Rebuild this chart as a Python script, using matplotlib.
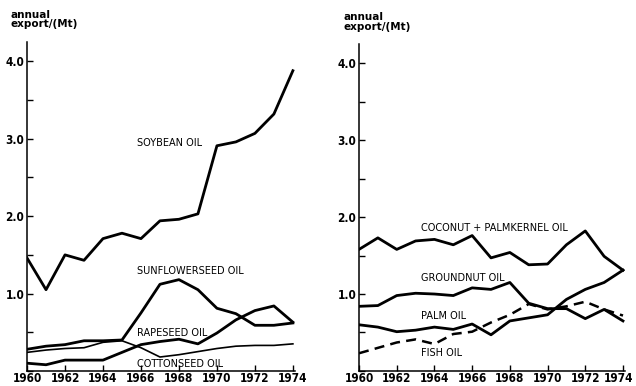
import matplotlib
matplotlib.use("Agg")
from matplotlib import pyplot as plt
from matplotlib.ticker import MultipleLocator
from matplotlib.transforms import ScaledTranslation
import numpy as np

# --- data ----------------------------------------------------------------
years = np.arange(1960, 1975)

soybean = [1.46, 1.05, 1.50, 1.43, 1.71, 1.78, 1.71, 1.94, 1.96, 2.03,
           2.91, 2.96, 3.07, 3.32, 3.88]
sunflower = [0.28, 0.32, 0.34, 0.39, 0.39, 0.40, 0.75, 1.12, 1.18, 1.05,
             0.81, 0.74, 0.59, 0.59, 0.62]
rapeseed = [0.10, 0.08, 0.14, 0.14, 0.14, 0.24, 0.34, 0.38, 0.41, 0.35,
            0.49, 0.66, 0.78, 0.84, 0.63]
cottonseed = [0.24, 0.27, 0.29, 0.30, 0.37, 0.39, 0.30, 0.18, 0.21, 0.25,
              0.29, 0.32, 0.33, 0.33, 0.35]

coconut = [1.58, 1.73, 1.58, 1.69, 1.71, 1.64, 1.76, 1.47, 1.54, 1.38,
           1.39, 1.64, 1.82, 1.49, 1.31]
groundnut = [0.84, 0.85, 0.98, 1.01, 1.00, 0.98, 1.08, 1.06, 1.15, 0.88,
             0.81, 0.81, 0.68, 0.80, 0.65]
palm = [0.60, 0.57, 0.51, 0.53, 0.57, 0.54, 0.61, 0.47, 0.65, 0.69,
        0.73, 0.93, 1.06, 1.15, 1.31]
fish = [0.23, 0.30, 0.37, 0.41, 0.35, 0.48, 0.51, 0.63, 0.73, 0.87,
        0.80, 0.84, 0.90, 0.80, 0.72]

left_labels = [("SOYBEAN OIL", 1965.8, 2.95), ("SUNFLOWERSEED OIL", 1965.8, 1.29),
               ("RAPESEED OIL", 1965.8, 0.49), ("COTTONSEED OIL", 1965.8, 0.09)]
right_labels = [("COCONUT + PALMKERNEL OIL", 1963.3, 1.86), ("GROUNDNUT OIL", 1963.3, 1.21),
                ("PALM OIL", 1963.3, 0.71), ("FISH OIL", 1963.3, 0.23)]

year_ticks = np.arange(1960, 1975, 2)
year_labels = [str(y) for y in year_ticks]
val_ticks = [1.0, 2.0, 3.0, 4.0]
val_labels = ["1.0", "2.0", "3.0", "4.0"]

plt.rcParams["font.family"] = ["DejaVu Sans"]

fig = plt.figure(figsize=(6.36, 3.86), dpi=100)
fig.set_facecolor("white")

ax1 = fig.add_axes([0.0425, 0.039, 0.421, 0.852])
ax2 = fig.add_axes([0.5645, 0.039, 0.418, 0.847])

tick_font = dict(fontsize=8.5, fontweight="bold", fontstretch="condensed")


def style_axis(ax):
    ax.set_xlim(1960, 1974.1)
    ax.set_ylim(0, 4.25)
    for s in ("top", "right"):
        ax.spines[s].set_visible(False)
    for s in ("left", "bottom"):
        ax.spines[s].set_linewidth(1.1)
    ax.set_xticks(year_ticks)
    ax.set_xticklabels(year_labels, **tick_font)
    ax.set_yticks(val_ticks)
    ax.set_yticklabels(val_labels, **tick_font)
    ax.yaxis.set_minor_locator(MultipleLocator(0.5))
    ax.tick_params(axis="both", which="both", direction="in", length=4, width=1, pad=2)
    ax.tick_params(axis="x", pad=1)


lw = 2.0
ax1.plot(years, soybean, color="black", lw=lw)
ax1.plot(years, sunflower, color="black", lw=lw)
ax1.plot(years, rapeseed, color="black", lw=lw)
ax1.plot(years, cottonseed, color="black", lw=1.2)
for txt, x, y in left_labels:
    ax1.text(x, y, txt, fontsize=7, ha="left", va="center")

ax2.plot(years, coconut, color="black", lw=lw)
ax2.plot(years, groundnut, color="black", lw=lw)
ax2.plot(years, palm, color="black", lw=lw)
ax2.plot(years, fish, color="black", lw=1.8, ls=(0, (4, 2.5)))
for txt, x, y in right_labels:
    ax2.text(x, y, txt, fontsize=7, ha="left", va="center")

for ax in (ax1, ax2):
    style_axis(ax)

# nudge the last year label of the right panel so it stays on the page
last = ax2.get_xticklabels()[-1]
last.set_transform(last.get_transform() + ScaledTranslation(-3 / 72, 0, fig.dpi_scale_trans))

fig.text(0.017, 0.925, "annual\nexport/(Mt)", fontsize=7.5, fontweight="bold",
         ha="left", va="bottom", linespacing=0.9)
fig.text(0.54, 0.918, "annual\nexport/(Mt)", fontsize=7.5, fontweight="bold",
         ha="left", va="bottom", linespacing=0.9)

fig.savefig("out.png", dpi=100)
